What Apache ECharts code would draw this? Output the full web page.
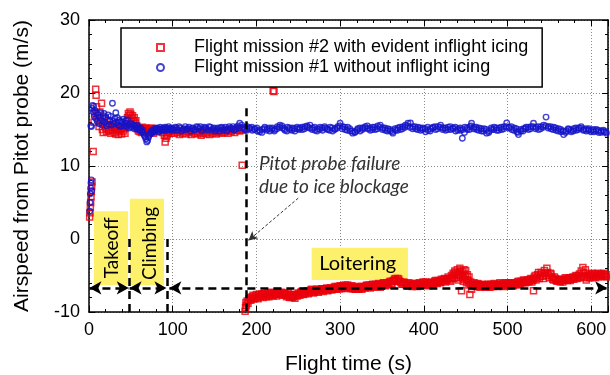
<!DOCTYPE html>
<html>
<head>
<meta charset="utf-8">
<script src="https://cdn.jsdelivr.net/npm/echarts@6/dist/echarts.min.js"></script>
<style>html,body{margin:0;padding:0;background:#fff}#c{width:610px;height:375px}</style>
</head>
<body>
<div id="c"></div>
<script>
// ---------------- DATA ----------------
const seriesNames = ['Flight mission #2 with evident inflight icing', 'Flight mission #1 without inflight icing'];
const xTicks = [0, 100, 200, 300, 400, 500, 600];
const yTicks = [-10, 0, 10, 20, 30];

// Mission #2 (icing) — takeoff / climb / early cruise [time s, airspeed m/s]
const mission2Flight = [
[0.8,3.0],[1.2,3.6],[1.6,4.3],[2.0,5.0],[2.4,5.8],[2.8,6.5],[3.2,7.2],[3.6,7.8],
[5,12.0],[6,16.0],[7,17.2],[8,20.5],[8.5,19.7],[9,18.1],[10,17.0],[11,16.3],[12,15.4],[13,17.4],[14,16.0],[15,18.6],
[16,15.0],[17,14.6],[18,15.8],[19,16.5],[20,15.2],[21,14.7],[22,15.6],[23,14.9],[24,16.2],[25,15.0],[26,14.5],[27,15.3],
[28,14.8],[29,15.6],[30,14.6],[31,15.1],[32,14.4],[33,15.4],[34,14.9],[35,14.3],[36,15.2],[37,14.7],[38,15.0],[39,14.4],
[40,15.3],[41,14.8],[42,15.1],[43,14.5],[44,15.4],[45,15.8],[46,16.6],[47,17.2],[48,16.9],[49,17.4],[50,17.1],[51,16.5],
[52,16.9],[53,16.2],[54,16.6],[55,15.9],[56,16.2],[57,15.5],[58,15.1],[59,14.8],[60,15.2],[61,14.7],[62,15.0],[63,14.6],
[64,15.3],[65,14.9],[66,15.1],[67,14.7],[68,15.2],[69,14.8],[70,15.0],[71,14.6],[72,15.1],[73,14.8],[74,15.2],[75,14.7],
[76,15.0],[77,14.5],[78,14.9],[80,15.1],[82,14.7],[84,14.9],[86,15.0],[88,14.6],[90,14.2],[91,13.3],[92,13.8],[93,14.1],
[94,14.4],[96,14.7],[98,14.5],[100,14.8],[102,14.5],[104,14.9],[106,14.6],[108,14.3],[110,14.7],[112,14.5],[114,14.9],
[116,14.4],[118,14.7],[120,14.6],[122,14.3],[124,14.8],[126,14.5],[128,14.7],[130,14.4],[132,14.6],[134,14.2],[136,14.5],
[138,14.8],[140,14.4],[142,14.6],[144,14.3],[146,14.7],[148,14.5],[150,14.8],[152,14.4],[154,14.6],[156,14.7],[158,14.5],
[160,14.9],[162,14.6],[164,14.8],[166,14.5],[168,14.9],[170,14.7],[172,15.0],[174,14.6],[176,14.9],[178,15.1],[180,14.8],
[182,15.0],[184,14.9],[186,15.1],[183,10.1],[220,20.3],[221,20.2]
];
// Mission #2 after Pitot probe failure (loitering), first sampling pass
const mission2Loiter = [
[186.5,-9.9],[187,-9.4],[187.5,-8.7],[188,-9.1],[189,-8.5],[190,-8.8],[191,-8.2],[193,-8.4],[195,-7.9],[197,-8.2],[199,-7.8],
[201,-8.0],[203,-7.6],[205,-7.9],[207,-7.7],[209,-7.5],[211,-7.8],[213,-7.6],[215,-7.9],[217,-7.5],[219,-7.7],[221,-7.4],
[223,-7.6],[225,-7.3],[227,-7.5],[229,-7.4],[231,-7.6],[233,-7.4],[235,-7.7],[237,-7.6],[239,-7.9],[241,-7.7],[243,-8.0],
[245,-7.8],[247,-7.6],[249,-7.8],[251,-7.5],[253,-7.3],[255,-7.5],[257,-7.2],[259,-7.4],[261,-7.1],[263,-7.3],[265,-7.0],
[267,-7.2],[269,-7.3],[271,-7.0],[273,-7.2],[275,-6.9],[277,-7.1],[279,-6.8],[281,-7.0],[283,-6.8],[285,-7.1],[287,-6.9],
[289,-6.7],[291,-6.9],[293,-6.6],[295,-6.8],[297,-6.5],[299,-6.8],[301,-6.6],[303,-6.4],[305,-6.7],[307,-6.5],[309,-6.3],
[311,-6.6],[313,-6.5],[315,-6.8],[317,-6.6],[319,-6.9],[321,-6.7],[323,-6.8],[325,-6.5],[327,-6.7],[329,-6.6],[331,-6.4],
[333,-6.6],[335,-6.3],[337,-6.5],[339,-6.2],[341,-6.4],[343,-6.3],[345,-6.5],[347,-6.2],[349,-6.4],[351,-6.1],[353,-6.3],
[355,-6.0],[357,-6.2],[359,-5.9],[361,-6.1],[363,-5.8],[365,-5.5],[367,-5.7],[369,-5.4],[371,-5.8],[373,-6.0],[375,-6.2],
[377,-6.0],[379,-6.3],[381,-6.1],[383,-6.3],[385,-6.4],[387,-6.2],[389,-6.4],[391,-6.1],[393,-6.3],[395,-6.0],[397,-6.2],
[399,-5.9],[401,-6.1],[403,-6.3],[405,-6.0],[407,-6.2],[409,-5.9],[411,-6.1],[413,-5.8],[415,-6.0],[417,-5.7],[419,-5.9],
[421,-5.5],[423,-5.8],[425,-5.4],[427,-5.7],[429,-5.2],[431,-5.6],[433,-5.0],[435,-4.7],[436,-5.4],[437,-4.4],[439,-5.0],
[440,-4.2],[441,-5.6],[442,-4.6],[443,-4.0],[444,-5.2],[445,-7.1],[446,-4.5],[447,-5.8],[448,-4.8],[449,-5.5],[450,-4.3],
[451,-6.0],[452,-4.9],[453,-5.7],[454,-6.3],[455,-7.6],[456,-5.9],[458,-6.2],[460,-6.0],[462,-6.4],[464,-6.1],[466,-6.3],
[468,-6.5],[470,-6.2],[472,-6.4],[474,-6.6],[476,-6.3],[478,-6.5],[480,-6.2],[482,-6.4],[484,-6.1],[486,-6.3],[488,-6.5],
[490,-6.2],[492,-6.4],[494,-6.1],[496,-6.3],[498,-6.0],[500,-6.2],[502,-6.4],[504,-6.1],[506,-6.3],[508,-6.0],[510,-6.2],
[512,-5.9],[514,-6.1],[516,-5.8],[518,-6.0],[520,-5.7],[522,-5.9],[524,-5.6],[526,-5.8],[528,-5.4],[530,-5.7],[531,-7.1],
[532,-5.2],[534,-5.6],[536,-4.9],[538,-5.4],[540,-4.6],[542,-5.1],[544,-4.3],[546,-5.0],[547,-4.0],[548,-4.6],[550,-5.3],
[552,-4.8],[554,-5.5],[556,-5.2],[558,-5.7],[560,-5.5],[562,-5.8],[564,-5.6],[566,-5.9],[568,-5.6],[570,-5.4],[572,-5.7],
[574,-5.3],[576,-5.5],[578,-5.2],[580,-5.4],[582,-5.0],[584,-5.3],[586,-4.8],[588,-4.4],[589,-5.1],[590,-3.9],[591,-4.6],
[592,-5.2],[593,-4.2],[594,-5.6],[596,-5.0],[598,-5.3],[600,-4.9],[602,-5.2],[604,-4.8],[606,-5.1],[608,-4.7],[610,-5.0],
[612,-4.8],[614,-5.1],[616,-4.9],[618,-5.2]
];
// Mission #2 loitering, interleaved samples
const mission2LoiterB = [
[192,-8.0],[194,-8.3],[196,-7.7],[198,-8.1],[200,-7.6],[202,-8.2],[204,-7.8],[206,-7.5],[208,-8.0],[210,-7.6],[212,-7.9],
[214,-7.4],[216,-7.7],[218,-7.3],[220,-7.8],[222,-7.5],[224,-7.8],[226,-7.2],[228,-7.6],[230,-7.3],[232,-7.7],[234,-7.5],
[236,-7.9],[238,-7.4],[240,-8.0],[242,-7.6],[244,-7.9],[246,-8.1],[248,-7.7],[250,-7.4],[252,-7.7],[254,-7.2],[256,-7.6],
[258,-7.5],[260,-7.2],[262,-7.5],[264,-7.2],[266,-6.9],[268,-7.4],[270,-7.1],[272,-6.9],[274,-7.3],[276,-7.0],[278,-6.8],
[280,-7.2],[282,-6.9],[284,-6.7],[286,-7.0],[288,-6.7],[290,-7.0],[292,-6.8],[294,-6.5],[296,-6.9],[298,-6.6],[300,-6.4],
[302,-6.8],[304,-6.5],[306,-6.3],[308,-6.7],[310,-6.5],[312,-6.8],[314,-6.4],[316,-6.7],[318,-6.9],[320,-6.5],[322,-6.9],
[324,-6.6],[326,-6.9],[328,-6.5],[330,-6.7],[332,-6.3],[334,-6.5],[336,-6.7],[338,-6.3],[340,-6.6],[342,-6.2],[344,-6.5],
[346,-6.1],[348,-6.6],[350,-6.3],[352,-6.0],[354,-6.4],[356,-6.1],[358,-6.3],[360,-5.8],[362,-6.2],[364,-5.7],[366,-5.4],
[368,-5.8],[370,-5.5],[372,-5.9],[374,-6.2],[376,-5.9],[378,-6.2],[380,-6.4],[382,-6.0],[384,-6.2],[386,-6.5],[388,-6.1],
[390,-6.3],[392,-6.5],[394,-6.1],[396,-6.4],[398,-6.1],[400,-6.3],[402,-5.9],[404,-6.2],[406,-6.4],[408,-6.0],[410,-6.3],
[412,-6.0],[414,-5.7],[416,-6.1],[418,-5.8],[420,-6.0],[422,-5.7],[424,-5.5],[426,-5.9],[428,-5.5],[430,-5.4],[432,-5.8],
[434,-5.3],[436,-4.9],[438,-4.6],[440,-5.3],[442,-5.0],[444,-4.4],[446,-5.3],[448,-4.2],[450,-5.1],[452,-5.6],[454,-5.2],
[456,-6.2],[457,-6.9],[459,-6.4],[461,-6.2],[463,-6.5],[465,-6.2],[467,-6.6],[469,-6.3],[471,-6.5],[473,-6.3],[475,-6.5],
[477,-6.2],[479,-6.6],[481,-6.3],[483,-6.5],[485,-6.3],[487,-6.2],[489,-6.4],[491,-6.0],[493,-6.3],[495,-6.5],[497,-6.1],
[499,-6.4],[501,-6.0],[503,-6.2],[505,-6.0],[507,-6.4],[509,-6.1],[511,-6.3],[513,-5.8],[515,-6.2],[517,-5.9],[519,-5.6],
[521,-6.0],[523,-5.7],[525,-5.9],[527,-5.5],[529,-5.9],[531,-5.5],[533,-5.0],[535,-5.3],[537,-4.6],[539,-5.1],[541,-4.8],
[543,-5.4],[545,-4.7],[549,-5.0],[551,-4.7],[553,-5.2],[555,-5.6],[557,-5.4],[559,-5.8],[561,-5.6],[563,-5.9],[565,-5.5],
[567,-5.7],[569,-5.3],[571,-5.6],[573,-5.4],[575,-5.7],[577,-5.3],[579,-5.5],[581,-5.1],[583,-5.4],[585,-5.0],[587,-5.3],
[595,-5.3],[597,-4.8],[599,-5.1],[601,-4.7],[603,-5.0],[605,-5.3],[607,-4.9],[609,-5.2],[611,-4.8],[613,-5.0],[615,-4.7],
[617,-5.1],[619,-4.9]
];
// Mission #1 (no icing), first sampling pass
const mission1 = [
[0.8,3.8],[1.2,5.0],[1.6,6.2],[2.0,7.0],[2.4,7.7],[2.8,8.1],[3.2,6.6],[2.2,15.5],[3.0,15.4],[3.6,17.9],[4.2,18.3],[5.0,17.4],
[5.6,18.2],[6.2,16.8],[7,17.6],[8,16.5],[9,17.3],[10,16.1],[11,17.0],[12,15.8],[13,16.6],[14,17.3],[15,16.2],[16,15.6],
[17,16.9],[18,17.2],[19,16.0],[20,16.7],[21,15.5],[22,16.3],[23,17.0],[24,15.7],[25,16.2],[26,16.8],[27,15.6],[28,18.6],
[29,16.1],[30,15.8],[31,16.5],[32,17.3],[33,16.0],[34,16.6],[35,15.6],[36,16.3],[37,15.4],[38,16.1],[39,15.5],[40,16.0],
[41,16.4],[42,15.5],[43,15.9],[44,16.2],[45,15.4],[46,16.3],[47,15.6],[48,15.2],[49,15.7],[50,15.4],[51,15.8],[52,15.3],
[53,15.6],[54,15.1],[55,15.5],[56,15.2],[57,15.6],[58,15.0],[59,15.4],[60,15.1],[61,14.9],[62,15.2],[63,14.7],[64,14.9],
[65,14.5],[66,14.2],[67,14.0],[68,13.7],[69,13.3],[70,13.5],[71,13.9],[72,14.2],[73,14.4],[74,14.7],[75,14.5],[76,14.9],
[77,14.7],[78,15.0],[79,14.8],[80,15.2],[81,14.9],[82,15.1],[83,14.7],[84,15.0],[85,15.3],[86,14.9],[87,15.1],[88,14.8],
[89,15.2],[90,15.0],[91,15.3],[92,14.9],[93,15.2],[94,15.0],[95,15.4],[96,15.1],[97,14.9],[98,15.2],[99,15.0],
[100,15.1],[103,15.3],[106,14.9],[109,15.2],[112,15.0],[115,15.4],[118,15.1],[121,14.8],[124,15.2],[127,15.0],[130,15.3],
[133,15.4],[136,15.0],[139,15.2],[142,14.9],[145,15.3],[148,15.1],[151,14.8],[154,15.2],[157,15.2],[160,14.9],[163,15.3],
[166,15.0],[169,15.2],[172,15.4],[175,15.1],[178,15.5],[180,15.85],[183,15.3],[186,15.0],[189,15.4],[192,15.2],[195,14.9],
[198,15.1],[201,14.8],[204,14.7],[207,15.0],[210,15.3],[213,15.1],[216,14.8],[219,15.2],[222,15.0],[225,15.4],[228,15.6],
[231,15.2],[234,14.9],[237,15.3],[240,15.0],[243,15.2],[246,14.8],[249,15.1],[252,15.2],[255,15.0],[258,15.4],[261,15.3],
[264,15.6],[267,15.2],[270,14.9],[273,15.1],[276,15.3],[279,14.9],[282,15.2],[285,15.0],[288,15.3],[291,14.8],[294,15.1],
[297,15.4],[300,15.85],[303,15.4],[306,15.0],[309,15.3],[312,14.8],[315,14.5],[318,14.7],[321,15.1],[324,14.8],[327,15.2],
[330,15.4],[333,15.1],[336,14.9],[339,15.3],[342,15.0],[345,15.5],[348,15.6],[351,15.2],[354,14.9],[357,15.1],[360,14.8],
[363,14.5],[366,14.9],[369,15.2],[372,15.0],[375,15.4],[378,15.6],[381,15.85],[384,15.9],[387,15.4],[390,15.1],[393,15.3],
[396,14.9],[399,15.2],[402,14.7],[405,14.9],[408,15.1],[411,15.3],[414,15.0],[417,15.4],[420,15.6],[423,15.2],[426,14.9],
[429,15.3],[432,15.0],[435,15.2],[438,14.8],[441,15.1],[444,14.9],[446,13.8],[449,15.3],[452,15.0],[455,15.4],[457,15.85],
[460,15.3],[463,15.0],[466,15.2],[469,14.8],[472,15.1],[475,14.5],[478,14.8],[481,15.0],[484,15.3],[487,14.9],[490,15.2],
[493,15.0],[496,15.4],[499,15.9],[502,15.3],[505,15.0],[508,15.2],[511,14.7],[513,14.3],[516,14.8],[519,15.1],[522,15.3],
[525,15.0],[528,15.4],[531,15.85],[534,15.3],[537,15.0],[540,15.4],[543,15.6],[546,16.7],[549,15.4],[552,15.1],[555,15.3],
[558,14.9],[561,15.1],[564,14.7],[567,14.3],[570,14.8],[573,15.0],[576,14.7],[579,15.1],[582,14.9],[585,15.2],[588,15.4],
[591,15.0],[594,14.8],[597,15.1],[600,14.9],[603,14.7],[606,15.0],[609,14.6],[612,14.8],[615,14.7],[618,14.5]
];
// Mission #1 cruise, interleaved samples
const mission1B = [
[101.5,14.9],[104.5,15.2],[107.5,15.4],[110.5,14.8],[113.5,15.1],[116.5,15.0],[119.5,15.3],[122.5,15.1],[125.5,14.9],
[128.5,15.4],[131.5,15.1],[134.5,14.8],[137.5,15.3],[140.5,15.1],[143.5,15.4],[146.5,14.9],[149.5,15.2],[152.5,15.0],
[155.5,14.8],[158.5,15.3],[161.5,15.1],[164.5,14.8],[167.5,15.4],[170.5,15.1],[173.5,14.9],[176.5,15.3],[179.5,15.2],
[182.5,15.6],[185.5,15.2],[188.5,14.9],[191.5,15.1],[194.5,15.3],[197.5,15.0],[200.5,15.2],[203.5,14.9],[206.5,14.6],
[209.5,15.1],[212.5,14.9],[215.5,15.2],[218.5,15.0],[221.5,14.8],[224.5,15.1],[227.5,15.3],[230.5,15.5],[233.5,15.1],
[236.5,14.8],[239.5,15.2],[242.5,14.9],[245.5,15.1],[248.5,15.3],[251.5,15.0],[254.5,15.3],[257.5,15.1],[260.5,15.5],
[263.5,15.2],[266.5,15.0],[269.5,15.3],[272.5,14.8],[275.5,15.0],[278.5,15.2],[281.5,15.4],[284.5,15.1],[287.5,14.9],
[290.5,15.2],[293.5,15.0],[296.5,15.2],[299.5,15.5],[302.5,15.1],[305.5,15.3],[308.5,14.9],[311.5,15.1],[314.5,14.8],
[317.5,14.6],[320.5,14.9],[323.5,15.2],[326.5,15.0],[329.5,15.2],[332.5,15.5],[335.5,15.2],[338.5,15.0],[341.5,15.3],
[344.5,15.1],[347.5,15.3],[350.5,15.0],[353.5,15.2],[356.5,14.8],[359.5,15.0],[362.5,14.7],[365.5,15.1],[368.5,14.9],
[371.5,15.3],[374.5,15.1],[377.5,15.3],[380.5,15.5],[383.5,15.3],[386.5,15.1],[389.5,15.4],[392.5,15.0],[395.5,15.2],
[398.5,15.0],[401.5,15.1],[404.5,15.3],[407.5,14.8],[410.5,15.2],[413.5,15.4],[416.5,15.1],[419.5,15.3],[422.5,15.0],
[425.5,15.2],[428.5,15.0],[431.5,15.4],[434.5,15.1],[437.5,15.3],[440.5,14.9],[443.5,15.2],[446.5,15.0],[448.5,14.6],
[451.5,15.2],[454.5,15.0],[456.5,15.5],[459.5,15.1],[462.5,15.3],[465.5,14.9],[468.5,15.1],[471.5,14.8],[474.5,15.0],
[477.5,14.6],[480.5,15.2],[483.5,15.0],[486.5,15.2],[489.5,14.9],[492.5,15.3],[495.5,15.1],[498.5,15.4],[501.5,15.2],
[504.5,15.4],[507.5,14.9],[510.5,15.1],[512.5,14.6],[515.5,15.0],[518.5,14.8],[521.5,15.1],[524.5,15.3],[527.5,15.1],
[530.5,15.4],[533.5,15.1],[536.5,15.4],[539.5,15.1],[542.5,15.3],[545.5,15.5],[548.5,15.2],[551.5,15.4],[554.5,15.0],
[557.5,15.2],[560.5,14.8],[563.5,15.0],[566.5,14.8],[569.5,14.6],[572.5,15.1],[575.5,14.9],[578.5,14.8],[581.5,15.2],
[584.5,15.0],[587.5,15.2],[590.5,14.9],[593.5,15.1],[596.5,14.9],[599.5,14.7],[602.5,15.0],[605.5,14.8],[608.5,14.9],
[611.5,14.6],[614.5,14.9],[617.5,14.7]
];

// Phase annotations (text)
const phaseLabels = ['Takeoff', 'Climbing', 'Loitering'];
const failureText = ['Pitot probe failure', 'due to ice blockage'];

// ---------------- CHART ----------------
const RED = '#e8000b', BLUE = '#1414c8', YELLOW = '#fdf06a';
const chart = echarts.init(document.getElementById('c'), null, {renderer: 'canvas'});
const FONT = 'Liberation Sans, Arial, sans-serif';

function baseAxis(extra) {
  return Object.assign({
    type: 'value',
    axisLine: {show: true, onZero: false, lineStyle: {color: '#000', width: 1.5}},
    axisTick: {show: true, inside: true, length: 6, lineStyle: {color: '#000', width: 1}},
    minorTick: {show: true, splitNumber: 5, length: 3, lineStyle: {color: '#000', width: 1}},
    splitLine: {show: false},
    axisLabel: {show: false}
  }, extra);
}

const dashLine = {color: '#000', width: 2.5, type: [8, 5]};
function vline(t, v0, v1) {
  return [{coord: [t, v0], symbol: 'none'}, {coord: [t, v1], symbol: 'none'}];
}
function harrow(t0, t1, v) {
  return [{coord: [t0, v], symbol: 'arrow'}, {coord: [t1, v], symbol: 'arrow'}];
}

const option = {
  animation: false,
  backgroundColor: '#fff',
  grid: {left: 89, right: 2, top: 20, bottom: 63, outerBoundsMode: 'none', containLabel: false},
  legend: {
    data: seriesNames, orient: 'vertical', left: 121, top: 28,
    padding: [10, 14, 10, 35], itemWidth: 7, itemHeight: 7, itemGap: 1,
    borderColor: '#000', borderWidth: 1.5, backgroundColor: '#fff',
    textStyle: {fontSize: 18, fontFamily: FONT, color: '#000', padding: [0, 0, 0, 25], lineHeight: 19},
    selectedMode: false
  },
  xAxis: [
    baseAxis({min: 0, max: 620, interval: 100, position: 'bottom',
      splitLine: {show: true, lineStyle: {color: '#8a8a8a', type: [1, 2], width: 1}},
      axisLabel: {show: true, fontSize: 18, fontFamily: FONT, color: '#000', margin: 9},
      name: 'Flight time (s)', nameLocation: 'middle', nameGap: 42,
      nameTextStyle: {fontSize: 21, fontFamily: FONT, color: '#000'}}),
    baseAxis({min: 0, max: 620, interval: 100, position: 'top'})
  ],
  yAxis: [
    baseAxis({min: -10, max: 30, interval: 10, position: 'left',
      splitLine: {show: true, lineStyle: {color: '#8a8a8a', type: [1, 2], width: 1}},
      axisLabel: {show: true, fontSize: 18, fontFamily: FONT, color: '#000', margin: 9},
      name: 'Airspeed from Pitot probe (m/s)', nameLocation: 'middle', nameGap: 56,
      nameTextStyle: {fontSize: 21, fontFamily: FONT, color: '#000'}}),
    baseAxis({min: -10, max: 30, interval: 10, position: 'right'})
  ],
  series: [
    {
      name: seriesNames[0], type: 'scatter', symbol: 'rect', symbolSize: 6,
      data: mission2Flight.concat(mission2Loiter, mission2LoiterB),
      itemStyle: {color: 'rgba(255,255,255,0)', borderColor: RED, borderWidth: 1.5},
      emphasis: {disabled: true}, z: 3
    },
    {
      name: seriesNames[1], type: 'scatter', symbol: 'circle', symbolSize: 5.5,
      data: mission1.concat(mission1B),
      itemStyle: {color: 'rgba(255,255,255,0)', borderColor: BLUE, borderWidth: 1.4},
      emphasis: {disabled: true}, z: 4
    },
    {
      name: 'annotations', type: 'scatter', data: [], z: 5,
      markArea: {
        silent: true,
        itemStyle: {color: YELLOW, opacity: 1},
        label: {show: false},
        data: [
          [{coord: [6, 3.8]}, {coord: [46.5, -6.3]}],
          [{coord: [49, 5.5]}, {coord: [89.6, -6.3]}],
          [{coord: [266, -1.2]}, {coord: [381, -5.6]}]
        ]
      },
      markLine: {
        silent: true, symbolSize: [10, 12], label: {show: false},
        lineStyle: dashLine, emphasis: {disabled: true},
        data: [
          vline(48, 0, -10), vline(93, 0, -10), vline(188, 17.9, -10),
          harrow(0.5, 47.5, -6.7), harrow(48.5, 92.5, -6.7), harrow(96, 619, -6.7),
          [{coord: [250, 5.6], symbol: 'none', lineStyle: {width: 1, type: [3, 2], color: '#333'}},
           {coord: [190.5, -0.2], symbol: 'arrow', symbolSize: [7, 9]}]
        ]
      }
    }
  ]
};
chart.setOption(option);

function px(t, v) { return chart.convertToPixel({gridIndex: 0}, [t, v]); }
const pT = px(27.5, -1.2), pC = px(72.9, -0.6), pL = px(321, -3.4);
const pF1 = px(203, 10.3), pF2 = px(203, 7.1);
const phaseFont = '19px Lato, "Open Sans", sans-serif';
const noteFont = 'italic 19px Lato, "Open Sans", sans-serif';
chart.setOption({
  graphic: [
    {type: 'text', x: pT[0], y: pT[1], rotation: Math.PI / 2, z: 10,
      style: {text: phaseLabels[0], font: phaseFont, fill: '#000', align: 'center', verticalAlign: 'middle'}},
    {type: 'text', x: pC[0], y: pC[1], rotation: Math.PI / 2, z: 10,
      style: {text: phaseLabels[1], font: phaseFont, fill: '#000', align: 'center', verticalAlign: 'middle'}},
    {type: 'text', x: pL[0], y: pL[1], z: 10,
      style: {text: phaseLabels[2], font: '20px Lato, "Open Sans", sans-serif', fill: '#000', align: 'center', verticalAlign: 'middle'}},
    {type: 'text', x: pF1[0], y: pF1[1], z: 10,
      style: {text: failureText[0], font: noteFont, fill: '#333', align: 'left', verticalAlign: 'middle'}},
    {type: 'text', x: pF2[0], y: pF2[1], z: 10,
      style: {text: failureText[1], font: noteFont, fill: '#333', align: 'left', verticalAlign: 'middle'}}
  ]
});
</script>
</body>
</html>
